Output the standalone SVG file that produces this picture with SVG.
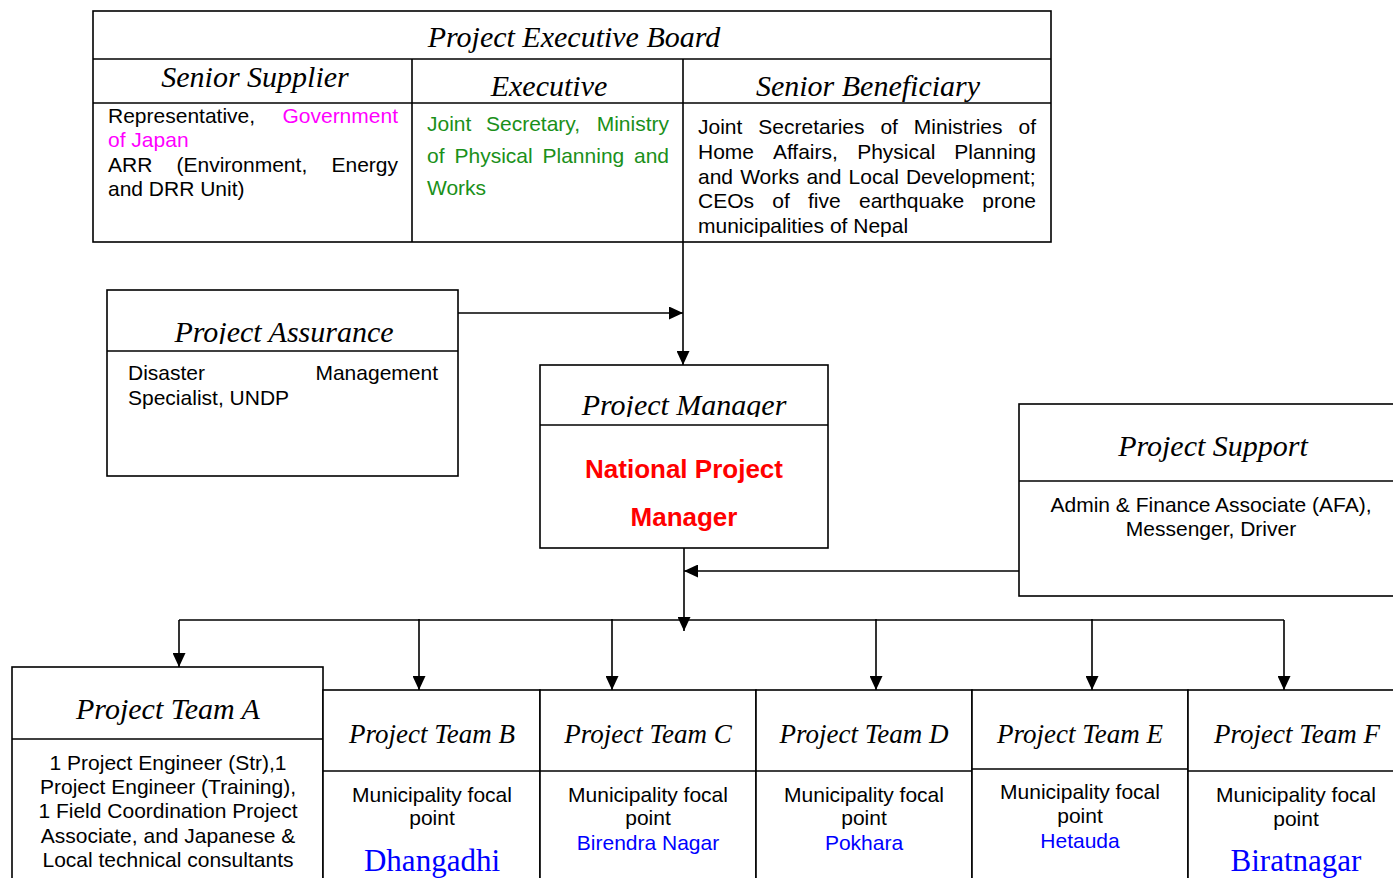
<svg xmlns="http://www.w3.org/2000/svg" width="1393" height="878" viewBox="0 0 1393 878">
<style>
.box{fill:#fff;stroke:#000;stroke-width:1.6}
.ln{stroke:#000;stroke-width:1.6;fill:none}
.hd{font-family:"Liberation Serif","Times New Roman",serif;font-style:italic;font-size:30px;fill:#000;text-anchor:middle}
.th{font-family:"Liberation Serif","Times New Roman",serif;font-style:italic;font-size:27px;fill:#000;text-anchor:middle}
.bd{font-family:"Liberation Sans",Arial,sans-serif;font-size:21px;fill:#000}
.c{text-anchor:middle}
.e{text-anchor:end}
.mag{fill:#ff00ff}
.grn{fill:#1a901a}
.blu{fill:#0000ff}
.red{font-family:"Liberation Sans",Arial,sans-serif;font-weight:bold;font-size:26px;fill:#ff0000;text-anchor:middle}
.city{font-family:"Liberation Serif","Times New Roman",serif;font-size:31px;fill:#0000ff;text-anchor:middle}
</style>
<defs>
<marker id="arr" markerUnits="userSpaceOnUse" markerWidth="15" markerHeight="13" refX="14" refY="6.5" orient="auto">
<path d="M0,0 L14,6.5 L0,13 z" fill="#000"/>
</marker>
<clipPath id="clipPA"><rect x="108" y="291" width="350" height="53"/></clipPath>
<clipPath id="clipPM"><rect x="541" y="366" width="287" height="51"/></clipPath>
</defs>

<g id="board">
<rect class="box" x="93" y="11" width="958" height="231"/>
<line class="ln" x1="93" y1="59" x2="1051" y2="59"/>
<line class="ln" x1="93" y1="103" x2="1051" y2="103"/>
<line class="ln" x1="412" y1="59" x2="412" y2="242"/>
<line class="ln" x1="683" y1="59" x2="683" y2="242"/>
<text class="hd" x="574" y="47">Project Executive Board</text>
<text class="hd" x="255" y="87">Senior Supplier</text>
<text class="hd" x="549" y="96">Executive</text>
<text class="hd" x="868" y="96">Senior Beneficiary</text>
<text class="bd" x="108" y="123">Representative,</text>
<text class="bd e mag" x="398" y="123">Government</text>
<text class="bd mag" x="108" y="147">of Japan</text>
<text class="bd" x="108" y="172">ARR</text>
<text class="bd" x="176.5" y="172">(Environment,</text>
<text class="bd e" x="398" y="172">Energy</text>
<text class="bd" x="108" y="196">and DRR Unit)</text>
<text class="bd grn" x="427" y="131">Joint</text>
<text class="bd grn" x="486" y="131">Secretary,</text>
<text class="bd grn e" x="669" y="131">Ministry</text>
<text class="bd grn" x="427" y="163">of</text>
<text class="bd grn" x="454.5" y="163">Physical</text>
<text class="bd grn" x="542.5" y="163">Planning</text>
<text class="bd grn e" x="669" y="163">and</text>
<text class="bd grn" x="427" y="195">Works</text>
<text class="bd" x="698" y="134">Joint</text>
<text class="bd" x="758.3" y="134">Secretaries</text>
<text class="bd" x="880.4" y="134">of</text>
<text class="bd" x="913.8" y="134">Ministries</text>
<text class="bd e" x="1036" y="134">of</text>
<text class="bd" x="698" y="159">Home</text>
<text class="bd" x="772.9" y="159">Affairs,</text>
<text class="bd" x="857.2" y="159">Physical</text>
<text class="bd e" x="1036" y="159">Planning</text>
<text class="bd" x="698" y="184" word-spacing="1.3">and Works and Local Development;</text>
<text class="bd" x="698" y="208">CEOs</text>
<text class="bd" x="772.3" y="208">of</text>
<text class="bd" x="808" y="208">five</text>
<text class="bd" x="859" y="208">earthquake</text>
<text class="bd e" x="1036" y="208">prone</text>
<text class="bd" x="698" y="233">municipalities of Nepal</text>
</g>

<g id="assurance">
<rect class="box" x="107" y="290" width="351" height="186"/>
<line class="ln" x1="107" y1="351" x2="458" y2="351"/>
<text class="hd" x="284" y="342" clip-path="url(#clipPA)">Project Assurance</text>
<text class="bd" x="128" y="380">Disaster</text>
<text class="bd e" x="438" y="380">Management</text>
<text class="bd" x="128" y="405">Specialist, UNDP</text>
</g>

<g id="manager">
<rect class="box" x="540" y="365" width="288" height="183"/>
<line class="ln" x1="540" y1="425" x2="828" y2="425"/>
<text class="hd" x="684" y="415" clip-path="url(#clipPM)">Project Manager</text>
<text class="red" x="684" y="478">National Project</text>
<text class="red" x="684" y="526">Manager</text>
</g>

<g id="support">
<rect class="box" x="1019" y="404" width="380" height="192"/>
<line class="ln" x1="1019" y1="481" x2="1399" y2="481"/>
<text class="hd" x="1213" y="456">Project Support</text>
<text class="bd c" x="1211" y="512">Admin &amp; Finance Associate (AFA),</text>
<text class="bd c" x="1211" y="536">Messenger, Driver</text>
</g>

<g id="teamA">
<rect class="box" x="12" y="667" width="311" height="220"/>
<line class="ln" x1="12" y1="739" x2="323" y2="739"/>
<text class="hd" x="168" y="719">Project Team A</text>
<text class="bd c" x="168" y="770">1 Project Engineer (Str),1</text>
<text class="bd c" x="168" y="794">Project Engineer (Training),</text>
<text class="bd c" x="168" y="818">1 Field Coordination Project</text>
<text class="bd c" x="168" y="843">Associate, and Japanese &amp;</text>
<text class="bd c" x="168" y="867">Local technical consultants</text>
</g>

<g id="teamB">
<rect class="box" x="323" y="690" width="217" height="200"/>
<line class="ln" x1="323" y1="771" x2="540" y2="771"/>
<text class="th" x="432" y="743">Project Team B</text>
<text class="bd c" x="432" y="802">Municipality focal</text>
<text class="bd c" x="432" y="825">point</text>
<text class="city" x="432" y="871">Dhangadhi</text>
</g>

<g id="teamC">
<rect class="box" x="540" y="690" width="216" height="200"/>
<line class="ln" x1="540" y1="771" x2="756" y2="771"/>
<text class="th" x="648" y="743">Project Team C</text>
<text class="bd c" x="648" y="802">Municipality focal</text>
<text class="bd c" x="648" y="825">point</text>
<text class="bd c blu" x="648" y="850">Birendra Nagar</text>
</g>

<g id="teamD">
<rect class="box" x="756" y="690" width="216" height="200"/>
<line class="ln" x1="756" y1="771" x2="972" y2="771"/>
<text class="th" x="864" y="743">Project Team D</text>
<text class="bd c" x="864" y="802">Municipality focal</text>
<text class="bd c" x="864" y="825">point</text>
<text class="bd c blu" x="864" y="850">Pokhara</text>
</g>

<g id="teamE">
<rect class="box" x="972" y="690" width="216" height="200"/>
<line class="ln" x1="972" y1="769" x2="1188" y2="769"/>
<text class="th" x="1080" y="743">Project Team E</text>
<text class="bd c" x="1080" y="799">Municipality focal</text>
<text class="bd c" x="1080" y="823">point</text>
<text class="bd c blu" x="1080" y="848">Hetauda</text>
</g>

<g id="teamF">
<rect class="box" x="1188" y="690" width="216" height="200"/>
<line class="ln" x1="1188" y1="771" x2="1404" y2="771"/>
<text class="th" x="1297" y="743">Project Team F</text>
<text class="bd c" x="1296" y="802">Municipality focal</text>
<text class="bd c" x="1296" y="826">point</text>
<text class="city" x="1296" y="871">Biratnagar</text>
</g>

<g id="connectors">
<line class="ln" x1="683" y1="242" x2="683" y2="365" marker-end="url(#arr)"/>
<line class="ln" x1="458" y1="313" x2="683" y2="313" marker-end="url(#arr)"/>
<line class="ln" x1="1019" y1="571" x2="684" y2="571" marker-end="url(#arr)"/>
<line class="ln" x1="684" y1="548" x2="684" y2="631" marker-end="url(#arr)"/>
<line class="ln" x1="179" y1="620" x2="1284" y2="620"/>
<line class="ln" x1="179" y1="620" x2="179" y2="667" marker-end="url(#arr)"/>
<line class="ln" x1="419" y1="619" x2="419" y2="690" marker-end="url(#arr)"/>
<line class="ln" x1="612" y1="619" x2="612" y2="690" marker-end="url(#arr)"/>
<line class="ln" x1="876" y1="619" x2="876" y2="690" marker-end="url(#arr)"/>
<line class="ln" x1="1092" y1="619" x2="1092" y2="690" marker-end="url(#arr)"/>
<line class="ln" x1="1284" y1="620" x2="1284" y2="690" marker-end="url(#arr)"/>
</g>
</svg>
